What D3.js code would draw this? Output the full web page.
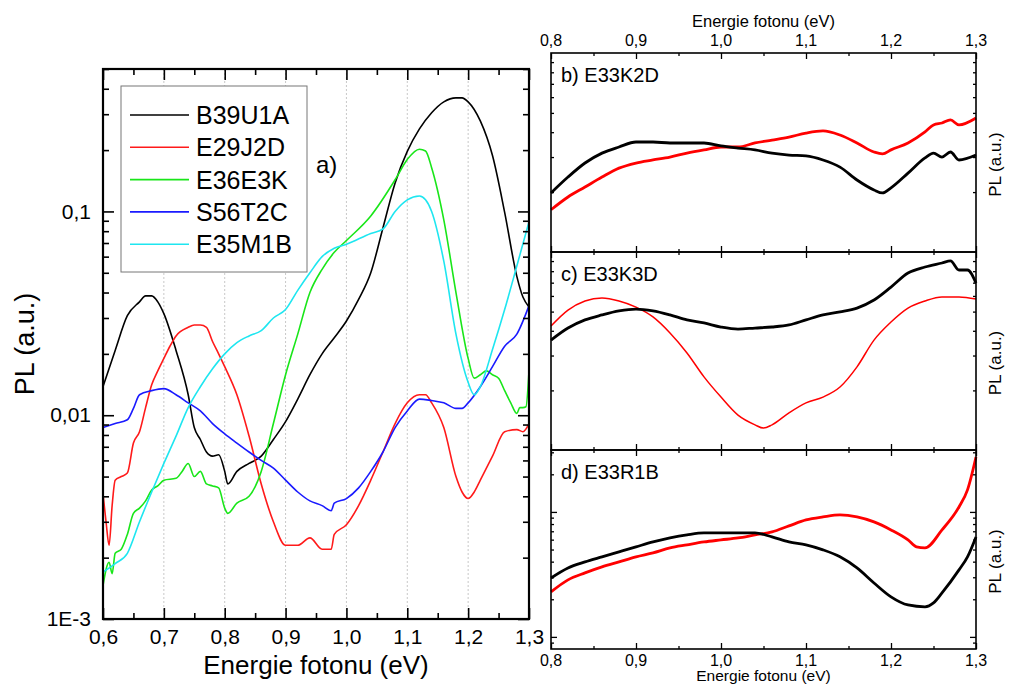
<!DOCTYPE html>
<html>
<head>
<meta charset="utf-8">
<script src="https://cdn.jsdelivr.net/npm/d3@7"></script>
<style>
  body { margin: 0; background: #fff; }
  text { font-family: "Liberation Sans", Arial, sans-serif; fill: #000; }
</style>
</head>
<body>
<script>
const width = 1011;
const height = 686;

// ---- panel a) : PL spectra, log scale ----
const b39u1a = [[0.60,0.0138],[0.62,0.0208],[0.64,0.0308],[0.66,0.036],[0.67,0.0385],[0.68,0.0385],[0.69,0.036],[0.70,0.0315],[0.72,0.0208],[0.74,0.0126],[0.75,0.0087],[0.76,0.0076],[0.77,0.0066],[0.78,0.0063],[0.79,0.0064],[0.80,0.0053],[0.805,0.0046],[0.82,0.0053],[0.84,0.0058],[0.86,0.0063],[0.88,0.0076],[0.90,0.0093],[0.92,0.012],[0.94,0.0158],[0.96,0.020],[0.98,0.024],[1.00,0.029],[1.02,0.037],[1.04,0.050],[1.06,0.083],[1.08,0.138],[1.10,0.197],[1.12,0.254],[1.14,0.305],[1.16,0.345],[1.18,0.361],[1.19,0.361],[1.20,0.345],[1.22,0.278],[1.24,0.188],[1.26,0.099],[1.28,0.048],[1.29,0.038],[1.30,0.034]];
const e29j2d = [[0.60,0.0041],[0.605,0.003],[0.61,0.0023],[0.615,0.0036],[0.62,0.0048],[0.63,0.0050],[0.64,0.0052],[0.65,0.0073],[0.66,0.0083],[0.67,0.0109],[0.68,0.0141],[0.69,0.0165],[0.70,0.019],[0.71,0.0218],[0.72,0.0245],[0.74,0.027],[0.75,0.0277],[0.76,0.0277],[0.77,0.027],[0.78,0.023],[0.79,0.020],[0.80,0.0173],[0.82,0.0126],[0.84,0.0079],[0.86,0.0046],[0.88,0.0030],[0.90,0.0023],[0.92,0.0023],[0.94,0.0025],[0.96,0.0022],[0.975,0.0022],[0.98,0.0026],[1.00,0.0029],[1.02,0.0036],[1.04,0.0048],[1.06,0.0066],[1.08,0.0091],[1.10,0.0115],[1.12,0.0126],[1.13,0.0126],[1.14,0.0115],[1.16,0.0087],[1.18,0.0050],[1.19,0.0042],[1.20,0.0039],[1.21,0.0042],[1.22,0.0048],[1.24,0.0063],[1.26,0.0083],[1.28,0.0085],[1.29,0.0083],[1.30,0.0091]];
const e36e3k = [[0.60,0.00146],[0.61,0.0019],[0.615,0.00167],[0.62,0.0021],[0.63,0.0022],[0.64,0.0026],[0.65,0.0033],[0.66,0.0035],[0.67,0.0038],[0.68,0.0043],[0.69,0.0045],[0.70,0.0048],[0.72,0.0049],[0.73,0.0053],[0.74,0.0058],[0.75,0.0050],[0.76,0.0053],[0.77,0.0046],[0.78,0.0045],[0.79,0.0044],[0.80,0.0035],[0.805,0.0033],[0.82,0.0037],[0.84,0.0040],[0.86,0.0053],[0.88,0.0091],[0.90,0.0158],[0.92,0.025],[0.94,0.040],[0.96,0.052],[0.98,0.063],[1.00,0.072],[1.04,0.095],[1.08,0.143],[1.10,0.18],[1.12,0.202],[1.13,0.198],[1.14,0.164],[1.16,0.091],[1.18,0.040],[1.20,0.019],[1.21,0.0152],[1.22,0.0158],[1.23,0.0165],[1.24,0.0158],[1.25,0.0152],[1.26,0.0132],[1.27,0.0115],[1.28,0.0102],[1.285,0.0109],[1.29,0.0109],[1.295,0.011],[1.30,0.0165]];
const s56t2c = [[0.60,0.0087],[0.62,0.0091],[0.64,0.0095],[0.65,0.0108],[0.66,0.0126],[0.68,0.0132],[0.70,0.0135],[0.72,0.0126],[0.74,0.0115],[0.76,0.0105],[0.78,0.0091],[0.80,0.0081],[0.82,0.0073],[0.84,0.0066],[0.86,0.0060],[0.88,0.0055],[0.90,0.0048],[0.92,0.0042],[0.94,0.0038],[0.96,0.0036],[0.975,0.0034],[0.98,0.0037],[1.00,0.0039],[1.02,0.0044],[1.04,0.0053],[1.06,0.0066],[1.08,0.0087],[1.10,0.0105],[1.12,0.0120],[1.14,0.0118],[1.16,0.0115],[1.18,0.0108],[1.19,0.0108],[1.20,0.0115],[1.22,0.0138],[1.24,0.0173],[1.26,0.0218],[1.28,0.025],[1.30,0.0345]];
const e35m1b = [[0.60,0.0017],[0.62,0.00187],[0.64,0.0021],[0.66,0.0030],[0.68,0.0042],[0.70,0.0058],[0.72,0.0079],[0.74,0.0109],[0.76,0.0138],[0.78,0.0169],[0.80,0.020],[0.82,0.0227],[0.84,0.0245],[0.86,0.026],[0.88,0.030],[0.90,0.033],[0.92,0.041],[0.94,0.050],[0.96,0.060],[0.98,0.066],[1.00,0.069],[1.04,0.078],[1.06,0.082],[1.08,0.10],[1.10,0.114],[1.12,0.119],[1.13,0.114],[1.14,0.10],[1.16,0.057],[1.18,0.025],[1.20,0.0145],[1.21,0.0126],[1.22,0.0138],[1.24,0.021],[1.26,0.033],[1.28,0.054],[1.30,0.089]];

const seriesNames = ["B39U1A", "E29J2D", "E36E3K", "S56T2C", "E35M1B"];
const seriesColors = ["#000000", "#ff1a1a", "#19e619", "#1a1aff", "#1ee6f0"];
const seriesData = [b39u1a, e29j2d, e36e3k, s56t2c, e35m1b];

// ---- panels b) c) d) : two spectra each, arbitrary units ----
const bBlack = [[0.80,1.98],[0.82,2.38],[0.84,2.80],[0.86,3.14],[0.88,3.37],[0.90,3.57],[0.92,3.57],[0.94,3.53],[0.96,3.53],[0.98,3.53],[1.00,3.41],[1.02,3.33],[1.04,3.26],[1.06,3.14],[1.08,3.07],[1.10,3.04],[1.12,2.90],[1.14,2.67],[1.16,2.30],[1.18,2.05],[1.19,1.98],[1.20,2.10],[1.22,2.49],[1.24,2.97],[1.25,3.14],[1.26,3.00],[1.27,3.18],[1.28,2.90],[1.30,3.07]];
const bRed = [[0.80,1.63],[0.82,1.89],[0.84,2.12],[0.86,2.38],[0.88,2.64],[0.90,2.80],[0.92,2.90],[0.94,3.00],[0.96,3.14],[0.98,3.26],[1.00,3.37],[1.02,3.37],[1.04,3.53],[1.06,3.65],[1.08,3.78],[1.10,3.96],[1.12,4.06],[1.14,3.87],[1.16,3.53],[1.18,3.18],[1.19,3.11],[1.20,3.26],[1.22,3.53],[1.24,4.01],[1.25,4.35],[1.26,4.45],[1.27,4.61],[1.28,4.35],[1.30,4.71]];
const cBlack = [[0.80,3.59],[0.82,4.13],[0.84,4.54],[0.86,4.81],[0.88,5.04],[0.90,5.15],[0.92,5.04],[0.94,4.81],[0.96,4.54],[0.98,4.38],[1.00,4.18],[1.02,4.08],[1.04,4.13],[1.06,4.18],[1.08,4.28],[1.10,4.54],[1.12,4.81],[1.14,4.98],[1.16,5.21],[1.18,5.72],[1.20,6.65],[1.22,7.83],[1.24,8.40],[1.26,8.80],[1.27,9.01],[1.28,8.11],[1.29,8.11],[1.30,6.97]];
const cRed = [[0.80,4.23],[0.82,5.09],[0.84,5.66],[0.86,5.86],[0.88,5.66],[0.90,5.27],[0.92,4.70],[0.94,3.90],[0.96,3.09],[0.98,2.34],[1.00,1.85],[1.02,1.50],[1.04,1.34],[1.05,1.29],[1.06,1.34],[1.08,1.54],[1.10,1.73],[1.12,1.85],[1.14,2.08],[1.16,2.63],[1.18,3.59],[1.20,4.43],[1.22,5.21],[1.24,5.66],[1.26,5.93],[1.28,5.93],[1.30,5.79]];
const dBlack = [[0.80,2.96],[0.82,3.56],[0.84,3.98],[0.86,4.37],[0.88,4.79],[0.90,5.25],[0.92,5.75],[0.94,6.19],[0.96,6.55],[0.98,6.79],[1.00,6.79],[1.02,6.79],[1.04,6.79],[1.06,6.31],[1.08,5.75],[1.10,5.45],[1.12,4.97],[1.14,4.37],[1.16,3.56],[1.18,2.70],[1.20,2.09],[1.22,1.80],[1.24,1.74],[1.25,1.87],[1.26,2.25],[1.28,3.44],[1.29,4.37],[1.30,6.31]];
const dRed = [[0.80,2.29],[0.82,2.86],[0.84,3.25],[0.86,3.63],[0.88,3.98],[0.90,4.37],[0.92,4.70],[0.94,5.15],[0.96,5.45],[0.98,5.75],[1.00,5.97],[1.02,6.19],[1.04,6.55],[1.06,6.92],[1.08,7.73],[1.10,8.63],[1.12,9.12],[1.14,9.46],[1.16,9.12],[1.18,8.32],[1.20,7.18],[1.22,5.97],[1.23,5.25],[1.24,5.15],[1.26,7.18],[1.28,10.96],[1.29,15.0],[1.30,27.5]];

const panelLabels = ["b) E33K2D", "c) E33K3D", "d) E33R1B"];
const panelDomains = [[1, 10], [1, 10], [0.8, 31.3]];
const panelBlack = [bBlack, cBlack, dBlack];
const panelRed = [bRed, cRed, dRed];

const comma = (s) => s.replace(".", ",");

const svg = d3
  .select("body")
  .append("svg")
  .attr("width", width)
  .attr("height", height);

// ================= panel a =================
const A = { left: 103, right: 529, top: 69, bottom: 619 };
const xA = d3.scaleLinear([0.6, 1.3], [A.left, A.right]);
const yA = d3.scaleLog([0.001, 0.5], [A.bottom, A.top]);

// dotted grid
svg
  .append("g")
  .selectAll("line")
  .data(d3.range(0.7, 1.21, 0.1))
  .join("line")
  .attr("x1", (d) => xA(d))
  .attr("x2", (d) => xA(d))
  .attr("y1", A.top)
  .attr("y2", A.bottom)
  .attr("stroke", "#c8c8c8")
  .attr("stroke-width", 1)
  .attr("stroke-dasharray", "2,2");

const lineA = d3
  .line()
  .x((d) => xA(d[0]))
  .y((d) => yA(d[1]))
  .curve(d3.curveMonotoneX);

svg
  .append("g")
  .selectAll("path")
  .data(seriesData)
  .join("path")
  .attr("d", lineA)
  .attr("fill", "none")
  .attr("stroke", (d, i) => seriesColors[i])
  .attr("stroke-width", 1.6);

const xMajorA = d3.range(0.6, 1.31, 0.1);
const xMinorA = d3.range(0.65, 1.3, 0.1);
const yAllA = yA.ticks();
const isDecade = (v) => Math.abs(Math.log10(v) - Math.round(Math.log10(v))) < 1e-6;
const yMajorA = yAllA.filter(isDecade);
const yMinorA = yAllA.filter((v) => !isDecade(v));

function axisStyle(g) {
  g.select(".domain").remove();
  g.selectAll("line").attr("stroke", "#000").attr("stroke-width", 1.6);
}

// bottom (labels) and top
svg.append("g").attr("transform", `translate(0,${A.bottom})`)
  .call(d3.axisBottom(xA).tickValues(xMajorA).tickSize(-11).tickPadding(10)
    .tickFormat((d) => comma(d3.format(".1f")(d))))
  .call(axisStyle)
  .call((g) => g.selectAll("text").attr("font-size", 21));
svg.append("g").attr("transform", `translate(0,${A.bottom})`)
  .call(d3.axisBottom(xA).tickValues(xMinorA).tickSize(-6).tickFormat(""))
  .call(axisStyle);
svg.append("g").attr("transform", `translate(0,${A.top})`)
  .call(d3.axisTop(xA).tickValues(xMajorA).tickSize(-11).tickFormat(""))
  .call(axisStyle);
svg.append("g").attr("transform", `translate(0,${A.top})`)
  .call(d3.axisTop(xA).tickValues(xMinorA).tickSize(-6).tickFormat(""))
  .call(axisStyle);

// left (labels) and right
const yFmt = (d) => (d < 0.005 ? "1E-3" : comma(String(d)));
svg.append("g").attr("transform", `translate(${A.left},0)`)
  .call(d3.axisLeft(yA).tickValues(yMajorA).tickSize(-11).tickPadding(12).tickFormat(yFmt))
  .call(axisStyle)
  .call((g) => g.selectAll("text").attr("font-size", 21));
svg.append("g").attr("transform", `translate(${A.left},0)`)
  .call(d3.axisLeft(yA).tickValues(yMinorA).tickSize(-6).tickFormat(""))
  .call(axisStyle);
svg.append("g").attr("transform", `translate(${A.right},0)`)
  .call(d3.axisRight(yA).tickValues(yMajorA).tickSize(-11).tickFormat(""))
  .call(axisStyle);
svg.append("g").attr("transform", `translate(${A.right},0)`)
  .call(d3.axisRight(yA).tickValues(yMinorA).tickSize(-6).tickFormat(""))
  .call(axisStyle);

svg.append("rect")
  .attr("x", A.left).attr("y", A.top)
  .attr("width", A.right - A.left).attr("height", A.bottom - A.top)
  .attr("fill", "none").attr("stroke", "#000").attr("stroke-width", 2.2);

svg.append("text")
  .attr("x", (A.left + A.right) / 2).attr("y", 674)
  .attr("text-anchor", "middle").attr("font-size", 26)
  .text("Energie fotonu (eV)");
svg.append("text")
  .attr("transform", `translate(34,${(A.top + A.bottom) / 2}) rotate(-90)`)
  .attr("text-anchor", "middle").attr("font-size", 27)
  .text("PL (a.u.)");
svg.append("text")
  .attr("x", 316).attr("y", 173).attr("font-size", 24)
  .text("a)");

// legend
const legend = svg.append("g");
legend.append("rect")
  .attr("x", 121).attr("y", 86).attr("width", 186).attr("height", 186)
  .attr("fill", "#fff").attr("stroke", "#777").attr("stroke-width", 1);
const rows = legend.selectAll("g").data(seriesNames).join("g")
  .attr("transform", (d, i) => `translate(0,${115 + i * 32.3})`);
rows.append("line")
  .attr("x1", 130).attr("x2", 189)
  .attr("stroke", (d, i) => seriesColors[i]).attr("stroke-width", 1.6);
rows.append("text")
  .attr("x", 196).attr("dy", "0.36em").attr("font-size", 25)
  .text((d) => d);

// ================= panels b, c, d =================
const R = { left: 551, right: 976 };
const panelTops = [53, 252, 450, 649];
const xR = d3.scaleLinear([0.8, 1.3], [R.left, R.right]);
const xMajorR = d3.range(0.8, 1.31, 0.1);
const xMinorR = d3.range(0.85, 1.3, 0.1);

function axisStyleR(g) {
  g.select(".domain").remove();
  g.selectAll("line").attr("stroke", "#000").attr("stroke-width", 1.3);
}

panelLabels.forEach((label, i) => {
  const top = panelTops[i];
  const bottom = panelTops[i + 1];
  const y = d3.scaleLog(panelDomains[i], [bottom, top]);
  const yTicks = y.ticks().filter((v) => y(v) < bottom - 1 && y(v) > top + 1);
  const yMaj = yTicks.filter(isDecade);
  const yMin = yTicks.filter((v) => !isDecade(v));
  const line = d3.line().x((d) => xR(d[0])).y((d) => y(d[1])).curve(d3.curveMonotoneX);

  const g = svg.append("g");
  g.append("path").datum(panelRed[i]).attr("d", line)
    .attr("fill", "none").attr("stroke", "#ff0000")
    .attr("stroke-width", i === 1 ? 1.5 : 2.8);
  g.append("path").datum(panelBlack[i]).attr("d", line)
    .attr("fill", "none").attr("stroke", "#000")
    .attr("stroke-width", 2.8);

  // x ticks top and bottom
  [[top, d3.axisTop], [bottom, d3.axisBottom]].forEach(([yy, ax]) => {
    g.append("g").attr("transform", `translate(0,${yy})`)
      .call(ax(xR).tickValues(xMajorR).tickSize(-6).tickFormat(""))
      .call(axisStyleR);
    g.append("g").attr("transform", `translate(0,${yy})`)
      .call(ax(xR).tickValues(xMinorR).tickSize(-3).tickFormat(""))
      .call(axisStyleR);
  });
  // y ticks left and right
  [[R.left, d3.axisLeft], [R.right, d3.axisRight]].forEach(([xx, ax]) => {
    g.append("g").attr("transform", `translate(${xx},0)`)
      .call(ax(y).tickValues(yMaj).tickSize(-6).tickFormat(""))
      .call(axisStyleR);
    g.append("g").attr("transform", `translate(${xx},0)`)
      .call(ax(y).tickValues(yMin).tickSize(-3).tickFormat(""))
      .call(axisStyleR);
  });

  g.append("rect")
    .attr("x", R.left).attr("y", top)
    .attr("width", R.right - R.left).attr("height", bottom - top)
    .attr("fill", "none").attr("stroke", "#000").attr("stroke-width", 1.6);

  g.append("text")
    .attr("x", 561).attr("y", top + 29).attr("font-size", 20)
    .text(label);
  g.append("text")
    .attr("transform", `translate(1001,${(top + bottom) / 2 + 12}) rotate(-90)`)
    .attr("text-anchor", "middle").attr("font-size", 17)
    .attr("fill", "#222")
    .text("PL (a.u.)");
});

// top axis labels (panel b) and bottom axis labels (panel d)
const fmtR = (d) => comma(d3.format(".1f")(d));
svg.append("g").selectAll("text").data(xMajorR).join("text")
  .attr("x", (d) => xR(d)).attr("y", 46)
  .attr("text-anchor", "middle").attr("font-size", 16).attr("fill", "#222")
  .text(fmtR);
svg.append("text")
  .attr("x", (R.left + R.right) / 2).attr("y", 27)
  .attr("text-anchor", "middle").attr("font-size", 16.5).attr("fill", "#222")
  .text("Energie fotonu (eV)");
svg.append("g").selectAll("text").data(xMajorR).join("text")
  .attr("x", (d) => xR(d)).attr("y", 666)
  .attr("text-anchor", "middle").attr("font-size", 16).attr("fill", "#222")
  .text(fmtR);
svg.append("text")
  .attr("x", (R.left + R.right) / 2).attr("y", 681)
  .attr("text-anchor", "middle").attr("font-size", 15.5).attr("fill", "#222")
  .text("Energie fotonu (eV)");
</script>
</body>
</html>
